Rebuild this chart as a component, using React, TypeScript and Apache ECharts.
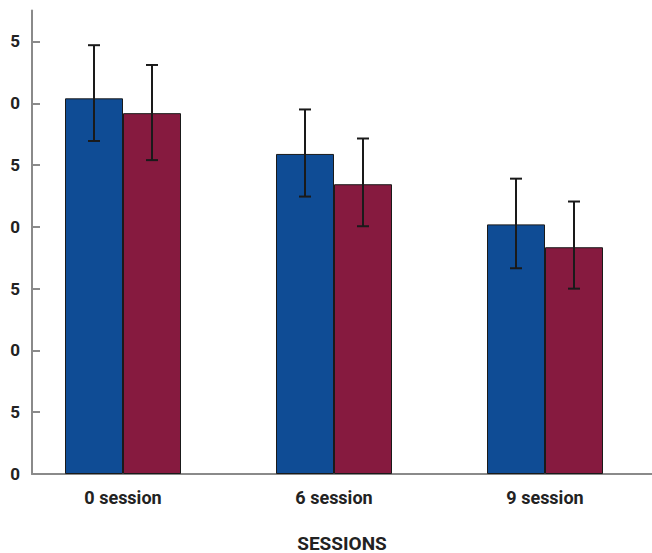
import React, { useEffect, useRef } from "react";
import * as echarts from "echarts";

const categories = ["0 session", "6 session", "9 session"];
const blueMeans = [30.4, 25.9, 20.2];
const blueHigh = [34.7, 29.5, 23.9];
const blueLow = [26.95, 22.45, 16.65];
const redMeans = [29.2, 23.45, 18.35];
const redHigh = [33.1, 27.15, 22.05];
const redLow = [25.4, 20.05, 15.0];
const yTickValues = [0, 5, 10, 15, 20, 25, 30, 35];
const yTickLabels = ["0", "5", "0", "5", "0", "5", "0", "5"];
const xAxisTitle = "SESSIONS";

const BLUE = "#0f4c95";
const RED = "#861a3f";
const BAR_W = 58;

function errorSeries(lows: number[], highs: number[], offset: number) {
  return {
    type: "custom",
    xAxisIndex: 1,
    yAxisIndex: 1,
    z: 10,
    data: lows.map((lo, i) => [i, lo, highs[i]]),
    renderItem: (_params: any, api: any) => {
      const lo = api.coord([api.value(0), api.value(1)]);
      const hi = api.coord([api.value(0), api.value(2)]);
      const x = lo[0] + offset;
      const cap = 6;
      const style = { stroke: "#1a1a1a", lineWidth: 2 };
      return {
        type: "group",
        children: [
          { type: "line", shape: { x1: x, y1: lo[1], x2: x, y2: hi[1] }, style },
          { type: "line", shape: { x1: x - cap, y1: hi[1], x2: x + cap, y2: hi[1] }, style },
          { type: "line", shape: { x1: x - cap, y1: lo[1], x2: x + cap, y2: lo[1] }, style },
        ],
      };
    },
  };
}

export default function App() {
  const ref = useRef<HTMLDivElement>(null);
  useEffect(() => {
    if (!ref.current) return;
    const chart = echarts.init(ref.current, null, { renderer: "svg" });
    const top = 10.6;
    const bottom = 79;
    chart.setOption({
      animation: false,
      backgroundColor: "#ffffff",
      grid: [
        { left: 32, right: 0, top, bottom, outerBoundsMode: "none", containLabel: false },
        { left: 17.5, right: 1.5, top, bottom, outerBoundsMode: "none", containLabel: false },
      ],
      xAxis: [
        {
          type: "value",
          gridIndex: 0,
          min: 0,
          max: 1,
          axisLine: { show: true, lineStyle: { color: "#8a8a8a", width: 2 } },
          axisTick: { show: false },
          axisLabel: { show: false },
          splitLine: { show: false },
          name: xAxisTitle,
          nameLocation: "middle",
          nameGap: 69,
          nameTextStyle: {
            fontFamily: "Roboto",
            fontWeight: "bold",
            fontSize: 19,
            lineHeight: 19,
            color: "#222",
            verticalAlign: "middle",
          },
        },
        {
          type: "category",
          gridIndex: 1,
          data: categories,
          axisLine: { show: false },
          axisTick: { show: false },
          axisLabel: {
            fontFamily: "Roboto",
            fontWeight: "bold",
            fontSize: 18,
            color: "#222",
            margin: 14,
          },
        },
      ],
      yAxis: [
        {
          type: "value",
          gridIndex: 0,
          min: 0,
          max: 37.5,
          axisLine: { show: true, lineStyle: { color: "#8a8a8a", width: 2 } },
          axisTick: {
            show: true,
            inside: true,
            length: 8,
            customValues: yTickValues,
            lineStyle: { color: "#8a8a8a", width: 2 },
          },
          axisLabel: {
            customValues: yTickValues,
            formatter: (v: number) => yTickLabels[yTickValues.indexOf(v)] ?? "",
            fontFamily: "Roboto",
            fontWeight: "bold",
            fontSize: 17,
            color: "#222",
            margin: 12,
          },
          splitLine: { show: false },
        },
        {
          type: "value",
          gridIndex: 1,
          min: 0,
          max: 37.5,
          show: false,
        },
      ],
      series: [
        {
          type: "bar",
          xAxisIndex: 1,
          yAxisIndex: 1,
          data: blueMeans,
          barWidth: BAR_W,
          barGap: "0%",
          itemStyle: { color: BLUE, borderColor: "#1a1a1a", borderWidth: 1 },
        },
        {
          type: "bar",
          xAxisIndex: 1,
          yAxisIndex: 1,
          data: redMeans,
          barWidth: BAR_W,
          barGap: "0%",
          itemStyle: { color: RED, borderColor: "#1a1a1a", borderWidth: 1 },
        },
        errorSeries(blueLow, blueHigh, -BAR_W / 2),
        errorSeries(redLow, redHigh, BAR_W / 2),
      ],
    });
    return () => chart.dispose();
  }, []);
  return (
    <div
      ref={ref}
      style={{ position: "fixed", left: 0, top: 0, width: 652, height: 553 }}
    />
  );
}
